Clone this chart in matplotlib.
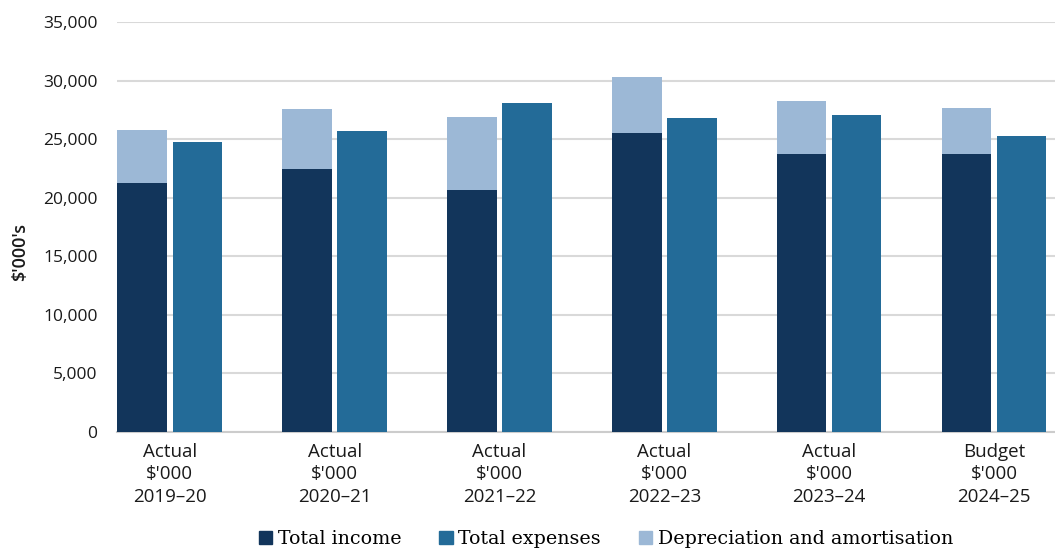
import numpy as np
import matplotlib.pyplot as plt
from matplotlib.patches import Patch

years = ["2019\u201320", "2020\u201321", "2021\u201322", "2022\u201323", "2023\u201324", "2024\u201325"]
kinds = ["Actual", "Actual", "Actual", "Actual", "Actual", "Budget"]
income = [21250, 22450, 20650, 25520, 23730, 23730]
depreciation = [4530, 5120, 6240, 4790, 4530, 3930]
expenses = [24760, 25700, 28090, 26810, 27060, 25270]

c_income = "#12355b"
c_expenses = "#236b98"
c_dep = "#9cb8d6"

plt.rcParams["font.family"] = ["Open Sans", "DejaVu Sans"]

fig = plt.figure(figsize=(10.55, 5.5), dpi=100)
ax = fig.add_axes([117 / 1055, 118 / 550, 938 / 1055, 410 / 550])

x = np.arange(len(years))
w = 0.30
off = 0.167
ax.bar(x - off, income, w, color=c_income, zorder=3)
ax.bar(x - off, depreciation, w, bottom=income, color=c_dep, zorder=3)
ax.bar(x + off, expenses, w, color=c_expenses, zorder=3)

ax.set_ylim(0, 35000)
ax.set_xlim(-0.32, len(years) - 1 + 0.37)
ax.set_yticks(range(0, 35001, 5000))
ax.set_yticklabels([f"{v:,}" for v in range(0, 35001, 5000)], fontsize=12.5, color="#1a1a1a")
ax.set_xticks(x)
ax.set_xticklabels([f"{k}\n$'000\n{y}" for k, y in zip(kinds, years)],
                   fontsize=13.5, color="#1a1a1a", linespacing=1.3)
ax.tick_params(axis="both", length=0, pad=8)
ax.tick_params(axis="y", pad=14)
ax.grid(axis="y", color="#d9d9d9", linewidth=1.5, zorder=0)
for s in ["top", "right", "left"]:
    ax.spines[s].set_visible(False)
ax.spines["bottom"].set_color("#cccccc")
ax.spines["bottom"].set_linewidth(1.5)

ax.set_ylabel("$'000's", fontsize=13, color="#1a1a1a", fontweight="semibold")
ax.yaxis.set_label_coords(-0.094, 0.44)

handles = [Patch(color=c_income), Patch(color=c_expenses), Patch(color=c_dep)]
labels = ["Total income", "Total expenses", "Depreciation and amortisation"]
fig.legend(handles, labels, loc="center", bbox_to_anchor=(606 / 1055, 1 - 539 / 550),
           ncol=3, frameon=False, handlelength=0.7, handleheight=0.7, handletextpad=0.3,
           columnspacing=2.0, prop={"family": ["DejaVu Serif"], "size": 13.7})

fig.savefig("out.png", dpi=100)
